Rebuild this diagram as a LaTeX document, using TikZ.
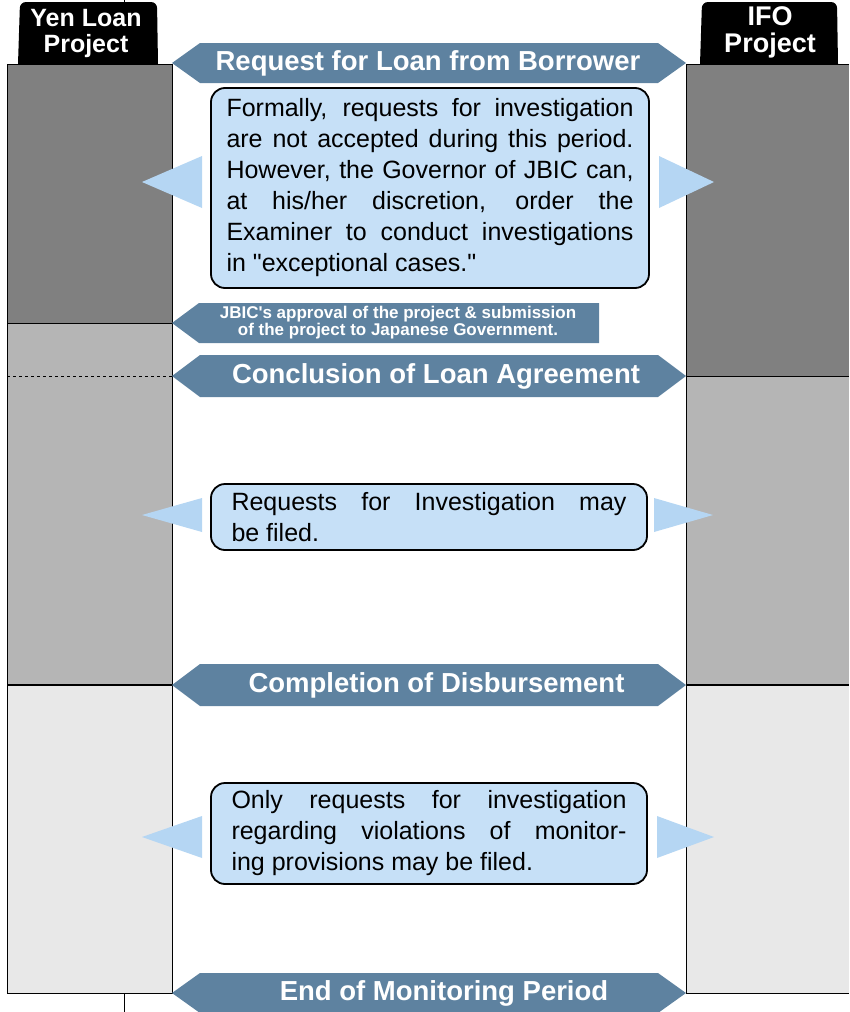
\documentclass[tikz,border=0pt]{standalone}
\usepackage{fontspec}
\setmainfont{Liberation Sans}
\usetikzlibrary{positioning}

\definecolor{bannerblue}{RGB}{94,130,160}
\definecolor{boxblue}{RGB}{198,224,247}
\definecolor{tipblue}{RGB}{181,214,243}
\definecolor{darkcol}{RGB}{128,128,128}
\definecolor{midcol}{RGB}{181,181,181}
\definecolor{lightcol}{RGB}{232,232,232}

\begin{document}
\begin{tikzpicture}[
    x=1pt, y=-1pt,
    banner/.style={fill=bannerblue},
    title/.style={text=white, inner sep=0pt, font=\bfseries\fontsize{27.5}{30}\selectfont},
    note/.style={draw, line width=1.8pt, fill=boxblue, rounded corners=14pt, align=justify, font=\fontsize{25}{31}\selectfont},
    pointer/.style={fill=tipblue},
    tabtext/.style={text=white, inner sep=0pt, align=center}
]
    \useasboundingbox (0,0) rectangle (849,1012);

    % Columns
    \draw (124,0) -- (124,1012);
    \fill[darkcol] (7,64) rectangle (172,323);
    \fill[midcol] (7,323) rectangle (172,685);
    \fill[lightcol] (7,685) rectangle (172,993);
    \draw (7,64) rectangle (172,993);
    \draw (7,323) -- (172,323);
    \draw[dashed] (7,376) -- (172,376);
    \draw[line width=1.5pt] (7,685) -- (172,685);

    \fill[darkcol] (686,64) rectangle (849,376);
    \fill[midcol] (686,376) rectangle (849,685);
    \fill[lightcol] (686,685) rectangle (849,993);
    \draw (849,64) -- (686,64) -- (686,993) -- (849,993);
    \draw (686,376) -- (849,376);
    \draw[line width=1.5pt] (686,685) -- (849,685);

    % Tabs
    \fill (18,64) [rounded corners=6pt] -- (20,2) -- (157,2) [sharp corners] -- (158,64) -- cycle;
    \fill (700,64) [rounded corners=6pt] -- (702,2) -- (837,2) [sharp corners] -- (838,64) -- cycle;
    \node[tabtext, font=\bfseries\fontsize{25}{26}\selectfont] (yen) at (86,33) {Yen Loan\\Project};
    \node[tabtext, font=\bfseries\fontsize{27}{27}\selectfont] (ifo) at (770,32) {IFO\\Project};

    % Banners
    \fill[banner] (172,63) -- (200,43) -- (658,43) -- (686,63) -- (658,83) -- (200,83) -- cycle;
    \fill[banner] (172,323) -- (199,303) -- (599,303) -- (599,343) -- (199,343) -- cycle;
    \fill[banner] (172,376) -- (200,355) -- (658,355) -- (686,376) -- (658,397) -- (200,397) -- cycle;
    \fill[banner] (172,685) -- (200,664) -- (658,664) -- (686,685) -- (658,706) -- (200,706) -- cycle;
    \fill[banner] (172,993) -- (200,973) -- (658,973) -- (686,993) -- (658,1013) -- (200,1013) -- cycle;

    \node[title] (request) at (428,63) {Request for Loan from Borrower};
    \node[title, align=center, font=\bfseries\fontsize{17}{17}\selectfont] (approval) at (398,322.5)
        {JBIC\textquotesingle s approval of the project \& submission\\of the project to Japanese Government.};
    \node[title] (conclusion) at (436,376) {Conclusion of Loan Agreement};
    \node[title] (completion) at (436.5,685) {Completion of Disbursement};
    \node[title] (monitoring) at (444,993) {End of Monitoring Period};

    % Pointers
    \fill[pointer] (142,182) -- (202,156) -- (202,208) -- cycle;
    \fill[pointer] (714,182) -- (659,156) -- (659,208) -- cycle;
    \fill[pointer] (142,515) -- (202,498) -- (202,532) -- cycle;
    \fill[pointer] (713,515) -- (654,498) -- (654,532) -- cycle;
    \fill[pointer] (142,837) -- (202,816) -- (202,858) -- cycle;
    \fill[pointer] (714,837) -- (657,816) -- (657,858) -- cycle;

    % Notes
    \node[note, text width=407pt, inner xsep=15.5pt, minimum height=200pt] (before) at (430,188)
        {Formally, requests for investigation\linebreak
         are not accepted during this period.\linebreak
         However, the Governor of JBIC can,\linebreak
         at his/her discretion, order the\linebreak
         Examiner to conduct investigations\linebreak
         in \textquotedbl exceptional cases.\textquotedbl};
    \node[note, text width=395pt, inner xsep=20.5pt, minimum height=66pt] (filed) at (429,517)
        {Requests for Investigation may\linebreak be filed.};
    \node[note, text width=395pt, inner xsep=20.5pt, minimum height=101pt] (violations) at (429,833.5)
        {Only requests for investigation\linebreak
         regarding violations of monitor-\linebreak
         ing provisions may be filed.};

\end{tikzpicture}
\end{document}
